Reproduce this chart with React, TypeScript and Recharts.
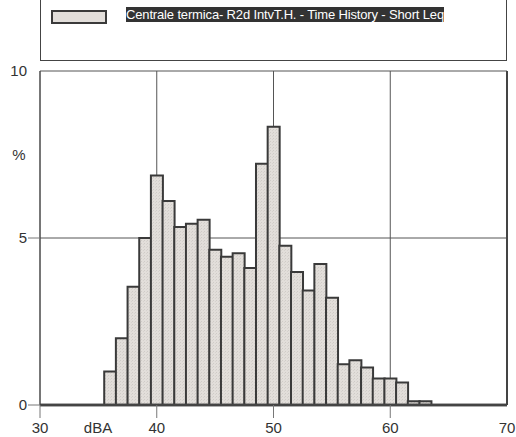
import React from 'react';
import { ComposedChart, Bar, XAxis, YAxis, CartesianGrid, ReferenceLine } from 'recharts';

// 1 dB bins, centre values
const dbaBins = [36, 37, 38, 39, 40, 41, 42, 43, 44, 45, 46, 47, 48, 49, 50, 51, 52, 53, 54, 55, 56, 57, 58, 59, 60, 61, 62, 63];
// percentage of time in each bin
const sharePct = [1.0, 2.0, 3.54, 5.0, 6.87, 6.11, 5.33, 5.43, 5.55, 4.65, 4.44, 4.54, 4.1, 7.22, 8.33, 4.77, 3.98, 3.43, 4.22, 3.21, 1.22, 1.34, 1.12, 0.79, 0.79, 0.67, 0.11, 0.11];
const xTicks = [30, 40, 50, 60, 70];
const yTicks = [0, 5, 10];
const seriesName = 'Centrale termica- R2d IntvT.H. - Time History - Short Leq';

const data = dbaBins.map((db, i) => ({ db, pct: sharePct[i] }));

const FONT = '"Liberation Sans", Arial, sans-serif';
const INK = '#3a3a3a';
const BAR_FILL = '#e2deda';

const XTick = (props: any) => {
  const { x, y, payload } = props;
  const v = payload.value;
  return (
    <g>
      {v !== 70 && <line x1={x} y1={y} x2={x} y2={y + 13} stroke="#777" strokeWidth={1} />}
      <text x={x} y={y + 28} textAnchor="middle" fill="#333" fontSize={15} fontFamily={FONT}>
        {v}
      </text>
    </g>
  );
};

const YTick = (props: any) => {
  const { x, y, payload } = props;
  const v = payload.value;
  return (
    <g>
      {v !== 10 && <line x1={x - 12} y1={y} x2={x} y2={y} stroke="#777" strokeWidth={1} />}
      <text x={x - 13} y={y + 5} textAnchor="end" fill="#333" fontSize={15} fontFamily={FONT}>
        {v}
      </text>
    </g>
  );
};

const App: React.FC = () => {
  return (
    <div style={{ position: 'absolute', left: 0, top: 0, width: 516, height: 437, background: '#fff', fontFamily: FONT }}>
      {/* legend box */}
      <div
        style={{
          position: 'absolute',
          left: 40,
          top: -2,
          width: 465,
          height: 62,
          borderLeft: '1.5px solid #444',
          borderRight: '1.5px solid #444',
          borderBottom: '1.5px solid #444',
        }}
      >
        <div
          style={{
            position: 'absolute',
            left: 10,
            top: 12,
            width: 52,
            height: 10,
            background: BAR_FILL,
            border: `2px solid ${INK}`,
          }}
        />
        <span
          style={{
            position: 'absolute',
            left: 85,
            top: 9,
            height: 15,
            lineHeight: '15px',
            fontSize: 13,
            letterSpacing: -0.15,
            color: '#fff',
            background: '#333',
            whiteSpace: 'nowrap',
          }}
        >
          {seriesName}
        </span>
      </div>

      <ComposedChart width={516} height={437} data={data} margin={{ top: 71, right: 9, bottom: 0, left: 0 }} barCategoryGap={0} barGap={0}>
        <defs>
          <pattern id="dots" width="3" height="3" patternUnits="userSpaceOnUse">
            <rect width="3" height="3" fill={BAR_FILL} />
            <rect x="0" y="0" width="1" height="1" fill="#cfcbc7" />
            <rect x="2" y="1" width="1" height="1" fill="#d6d2ce" />
          </pattern>
        </defs>
        <CartesianGrid stroke="#555" strokeWidth={1} />
        <XAxis
          dataKey="db"
          type="number"
          domain={[30, 70]}
          ticks={xTicks}
          allowDataOverflow
          height={32}
          tickSize={0}
          tickMargin={0}
          tickLine={false}
          tick={<XTick />}
          axisLine={{ stroke: '#444', strokeWidth: 2.5 }}
          label={({ viewBox }: any) => (
            <text x={viewBox.x + 58} y={viewBox.y + 28} textAnchor="middle" fill="#333" fontSize={15} fontFamily={FONT}>
              dBA
            </text>
          )}
        />
        <YAxis
          type="number"
          domain={[0, 10]}
          ticks={yTicks}
          width={40}
          tickSize={0}
          tickMargin={0}
          tickLine={false}
          axisLine={{ stroke: '#444', strokeWidth: 1 }}
          tick={<YTick />}
          label={({ viewBox }: any) => (
            <text x={viewBox.x + 19} y={viewBox.y + 89} textAnchor="middle" fill="#333" fontSize={15} fontFamily={FONT}>
              %
            </text>
          )}
        />
        <Bar dataKey="pct" fill="url(#dots)" stroke={INK} strokeWidth={2} isAnimationActive={false} />
        <ReferenceLine x={70} stroke="#444" strokeWidth={2} />
        <ReferenceLine y={0} stroke="#444" strokeWidth={2.5} />
      </ComposedChart>
    </div>
  );
};

export default App;
